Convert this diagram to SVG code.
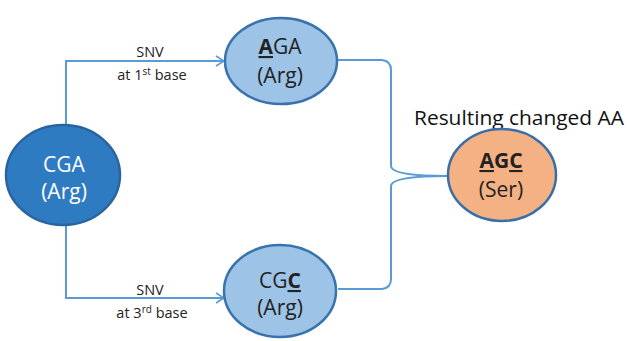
<svg xmlns="http://www.w3.org/2000/svg" width="629" height="341" viewBox="0 0 629 341">
<defs>
<marker id="arr" markerWidth="10" markerHeight="12" refX="9" refY="6" orient="auto" markerUnits="userSpaceOnUse">
<path d="M1,1 L9,6 L1,11" fill="none" stroke="#5B9BD5" stroke-width="1.6"/>
</marker>
<style>
.conn{fill:none;stroke:#5B9BD5;stroke-width:2}
.lbl{font-family:"Open Sans","Liberation Sans",sans-serif;font-size:14.5px;fill:#222;text-anchor:middle}
.nt{font-family:"Open Sans","Liberation Sans",sans-serif;font-size:21px;fill:#222;text-anchor:middle}
.dark{fill:#2F7BC2;stroke:#2A64A0;stroke-width:2.5}
.light{fill:#9DC3E6;stroke:#3A72AE;stroke-width:2.5}
.orange{fill:#F4B183;stroke:#3A6EA8;stroke-width:2.5}
.u{text-decoration:underline;font-weight:bold}
</style>
</defs>
<rect width="629" height="341" fill="#fff"/>
<g id="connectors">
<path class="conn" d="M66,124 V61 H224" marker-end="url(#arr)"/>
<path class="conn" d="M66,224 V298 H224" marker-end="url(#arr)"/>
<path class="conn" d="M338,60 H382 Q391,61 391,70 V166 Q391,176 449,176"/>
<path class="conn" d="M338,289 H382 Q391,288 391,279 V186 Q391,176 449,176"/>
</g>
<g id="label-top">
<text class="lbl" x="150" y="57">SNV</text>
<text class="lbl" x="152" y="80">at 1<tspan font-size="10" dy="-5">st</tspan><tspan dy="5"> base</tspan></text>
</g>
<g id="label-bottom">
<text class="lbl" x="150" y="295">SNV</text>
<text class="lbl" x="152" y="318">at 3<tspan font-size="10" dy="-5">rd</tspan><tspan dy="5"> base</tspan></text>
</g>
<g id="node-CGA">
<ellipse class="dark" cx="63" cy="175" rx="57" ry="50"/>
<text class="nt" x="64" y="172" style="fill:#fff">CGA</text>
<text class="nt" x="64" y="199" style="fill:#fff">(Arg)</text>
</g>
<g id="node-AGA">
<ellipse class="light" cx="281" cy="61" rx="56" ry="43"/>
<text class="nt" x="280" y="54"><tspan class="u">A</tspan>GA</text>
<text class="nt" x="280" y="83">(Arg)</text>
</g>
<g id="node-CGC">
<ellipse class="light" cx="280" cy="291" rx="56" ry="46"/>
<text class="nt" x="280" y="288">CG<tspan class="u">C</tspan></text>
<text class="nt" x="280" y="315">(Arg)</text>
</g>
<g id="node-AGC">
<text x="519" y="125" font-family="'Open Sans','Liberation Sans',sans-serif" font-size="20" fill="#111" text-anchor="middle" textLength="210" lengthAdjust="spacingAndGlyphs">Resulting changed AA</text>
<ellipse class="orange" cx="502" cy="175" rx="54" ry="46"/>
<text class="nt" x="501" y="168" style="font-weight:bold"><tspan class="u">A</tspan>G<tspan class="u">C</tspan></text>
<text class="nt" x="501" y="197">(Ser)</text>
</g>
</svg>
